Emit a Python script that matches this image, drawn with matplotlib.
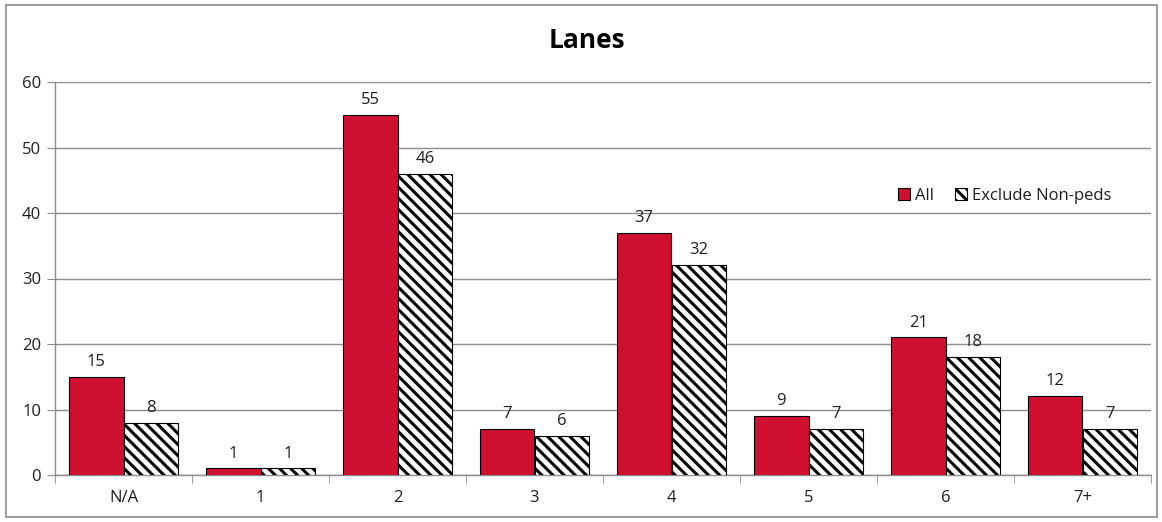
import matplotlib
matplotlib.use("Agg")
import matplotlib.pyplot as plt
from matplotlib.patches import Rectangle, Patch
import numpy as np

categories = ["N/A", "1", "2", "3", "4", "5", "6", "7+"]
all_vals = [15, 1, 55, 7, 37, 9, 21, 12]
excl_vals = [8, 1, 46, 6, 32, 7, 18, 7]
yticks = [0, 10, 20, 30, 40, 50, 60]

plt.rcParams["font.family"] = ["Open Sans", "DejaVu Sans"]
plt.rcParams["hatch.linewidth"] = 2.2

fig = plt.figure(figsize=(11.62, 5.22), dpi=100)
fig.patches.append(Rectangle((6 / 1162, 5 / 522), 1151 / 1162, 512 / 522,
                             transform=fig.transFigure, fill=False,
                             edgecolor="#8c8c8c", linewidth=1.2))

ax = fig.add_axes([55 / 1162, 47 / 522, 1096 / 1162, 393 / 522])
x = np.arange(len(categories))
w = 0.4
red = "#d01030"
hatch = "\\\\\\"
txt = "#1e1e1e"
fs = 12
b1 = ax.bar(x - w / 2, all_vals, w, color=red, edgecolor="black", linewidth=0.8, zorder=3)
b2 = ax.bar(x + w / 2, excl_vals, w, color="white", edgecolor="black", hatch=hatch,
            linewidth=0.8, zorder=3)

for bars, vals in ((b1, all_vals), (b2, excl_vals)):
    for r, v in zip(bars, vals):
        ax.annotate(str(v), (r.get_x() + r.get_width() / 2, v), xytext=(0, 5),
                    textcoords="offset points", ha="center", va="bottom",
                    fontsize=fs, color=txt)

ax.set_xlim(-0.5, len(categories) - 0.5)
ax.set_ylim(0, 60)
ax.set_yticks(yticks)
ax.set_xticks(x)
ax.set_xticklabels(categories, fontsize=fs, color=txt)
ax.tick_params(axis="x", length=0, pad=11)
ax.set_xticks(np.arange(-0.5, len(categories)), minor=True)
ax.tick_params(axis="x", which="minor", length=6, color="#8c8c8c")
ax.tick_params(axis="y", length=6, color="#8c8c8c", labelsize=fs, labelcolor=txt, pad=4)
ax.grid(axis="y", color="#8c8c8c", linewidth=1.0, zorder=0)
for s in ("top", "right"):
    ax.spines[s].set_visible(False)
for s in ("left", "bottom"):
    ax.spines[s].set_color("#8c8c8c")
    ax.spines[s].set_linewidth(1.0)
ax.set_axisbelow(True)

fig.text(587 / 1162, 1 - 40 / 522, "Lanes", ha="center", va="center",
         fontsize=19, fontweight="bold", color="black")

handles = [Patch(facecolor=red, edgecolor="black", linewidth=0.8),
           Patch(facecolor="white", edgecolor="black", hatch=hatch, linewidth=0.8)]
ax.legend(handles, ["All", "Exclude Non-peds"], loc="center left",
          bbox_to_anchor=(883 / 1162, 1 - 196 / 522), bbox_transform=fig.transFigure,
          frameon=False, ncol=2, fontsize=fs, handlelength=0.7, handleheight=0.7,
          handletextpad=0.3, columnspacing=1.3, labelcolor=txt)

fig.savefig("out.png", dpi=100)
